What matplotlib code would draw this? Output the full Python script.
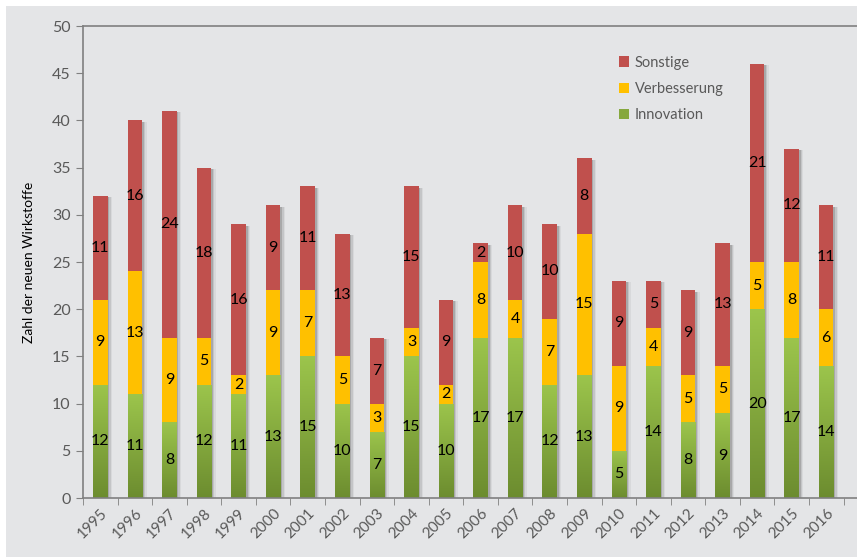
import matplotlib.pyplot as plt
import numpy as np
from matplotlib.patches import Patch, Rectangle
from matplotlib.colors import LinearSegmentedColormap

plt.rcParams['font.family'] = ['Lato', 'DejaVu Sans']

# -----------------------------
# Data
# -----------------------------
years = [str(y) for y in range(1995, 2017)]
innovation = [12, 11, 8, 12, 11, 13, 15, 10, 7, 15, 10, 17, 17, 12, 13, 5, 14, 8, 9, 20, 17, 14]
verbesserung = [9, 13, 9, 5, 2, 9, 7, 5, 3, 3, 2, 8, 4, 7, 15, 9, 4, 5, 5, 5, 8, 6]
sonstige = [11, 16, 24, 18, 16, 9, 11, 13, 7, 15, 9, 2, 10, 10, 8, 9, 5, 9, 13, 21, 12, 11]

bg = '#e4e5e7'
red = '#c0504d'
yellow = '#ffc000'
green_top = '#9cc54c'
green_bot = '#6c8c2f'
axis_col = '#808080'
text_col = '#595959'

fig = plt.figure(figsize=(8.57, 5.57), dpi=100, facecolor='white')
fig.patches.append(Rectangle((6 / 857, 0), 1, 1 - 6 / 557, transform=fig.transFigure,
                             facecolor=bg, edgecolor='none', zorder=-10))

ax = fig.add_axes([83 / 857, 1 - 498 / 557, 1 - 83 / 857, (498 - 26) / 557])
ax.set_facecolor(bg)

x = np.arange(len(years))
w = 0.42
inn = np.array(innovation)
ver = np.array(verbesserung)
son = np.array(sonstige)
totals = inn + ver + son

# shadows on the right side of each bar
for dx, a in [(0.05, 0.25), (0.09, 0.15), (0.13, 0.08)]:
    ax.bar(x + dx, totals, w, bottom=-0.15, color='#555555', alpha=a, zorder=1, linewidth=0)

# green gradient segments
cmap = LinearSegmentedColormap.from_list('g', [green_bot, green_top])
grad = np.linspace(0, 1, 256).reshape(-1, 1)
green_bars = ax.bar(x, inn, w, color='none', linewidth=0, zorder=2)
for rect in green_bars:
    x0 = rect.get_x()
    h = rect.get_height()
    im = ax.imshow(grad, cmap=cmap, origin='lower', aspect='auto',
                   extent=(x0, x0 + rect.get_width(), 0, h), zorder=2,
                   interpolation='bilinear')
    im.set_clip_path(rect)

ax.bar(x, ver, w, bottom=inn, color=yellow, linewidth=0, zorder=2)
ax.bar(x, son, w, bottom=inn + ver, color=red, linewidth=0, zorder=2)

# labels
for i in range(len(years)):
    for val, base in [(inn[i], 0), (ver[i], inn[i]), (son[i], inn[i] + ver[i])]:
        ax.text(x[i], base + val / 2, str(val), ha='center', va='center',
                fontsize=11.5, color='black', zorder=5)

# axes
ax.set_ylim(0, 50)
ax.set_xlim(-0.5, 21.89)
ax.set_yticks(range(0, 51, 5))
ax.set_xticks(x)
ax.set_xticklabels(years, rotation=45, ha='right', rotation_mode='anchor')
ax.set_xticks(np.arange(-0.5, 22, 1), minor=True)
ax.tick_params(axis='x', which='major', length=0, pad=6, labelsize=11, labelcolor=text_col)
ax.tick_params(axis='x', which='minor', length=5, color=axis_col, direction='out')
ax.tick_params(axis='y', length=5, color=axis_col, labelsize=11.5, labelcolor=text_col, pad=4)

for s in ['left', 'bottom', 'top']:
    ax.spines[s].set_color(axis_col)
    ax.spines[s].set_linewidth(1.2)
ax.spines['right'].set_visible(False)

ax.set_ylabel('Zahl der neuen Wirkstoffe', fontsize=10, color='black', labelpad=12)

handles = [Patch(facecolor=red, label='Sonstige'),
           Patch(facecolor=yellow, label='Verbesserung'),
           Patch(facecolor='#86a83e', label='Innovation')]
ax.legend(handles=handles, loc='upper left', bbox_to_anchor=(0.675, 0.965), frameon=False,
          handlelength=0.7, handleheight=0.7, handletextpad=0.4, labelspacing=0.85,
          fontsize=10.5, labelcolor=text_col)

fig.savefig('out.png', dpi=100, facecolor=fig.get_facecolor())
